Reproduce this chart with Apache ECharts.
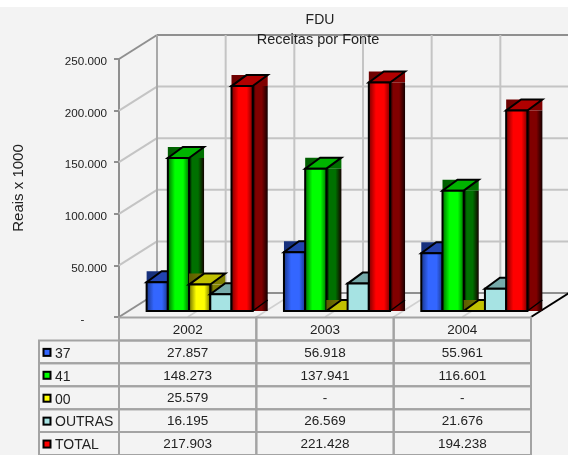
<!DOCTYPE html>
<html><head><meta charset="utf-8">
<style>html,body{margin:0;padding:0;background:#fff;overflow:hidden}#c{width:568px;height:455px}</style>
<script src="https://cdn.jsdelivr.net/npm/echarts@6/dist/echarts.min.js"></script>
</head><body><div id="c"></div>
<script>
const categories = ['2002','2003','2004'];
const valores37 = [27857,56918,55961];
const valores41 = [148273,137941,116601];
const valores00 = [25579,0,0];
const valoresOutras = [16195,26569,21676];
const valoresTotal = [217903,221428,194238];
const yTicks = [0,50000,100000,150000,200000,250000];
const rowNames = ['37','41','00','OUTRAS','TOTAL'];
const FONT = '"Liberation Sans", Arial, sans-serif';

const fmt = v => v === 0 ? '-' : String(v).replace(/\B(?=(\d{3})+$)/g, '.');
const rowsData = [valores37, valores41, valores00, valoresOutras, valoresTotal];
const palette = [
  {front:'#3366ff', edge:'#16307c', side:'#1a3380', top:'#2244b0', flat:false},
  {front:'#00ff00', edge:'#005c00', side:'#007000', top:'#00b400', flat:false},
  {front:'#ffff00', edge:'#5c5c00', side:'#808000', top:'#c0c000', flat:false},
  {front:'#a6e3e3', edge:'#a6e3e3', side:'#5a8c8c', top:'#76aaaa', flat:true},
  {front:'#ff0000', edge:'#6a0000', side:'#800000', top:'#b00000', flat:false}
];
const G = echarts.graphic;
const DX = 38, DY = -24;         // depth of the box
const BX = 15, BY = -11;         // depth of a bar
const SX = 12, SY = -6;          // where the bars sit on the floor
const BAR = 0.1545;              // bar width / category width

function grad(stops){ return new G.LinearGradient(0,0,1,0,stops.map((c,i)=>({offset:c[0],color:c[1]}))); }

function barRenderer(si){
  const p = palette[si];
  return function(params, api){
    const c = api.value(0), v = api.value(1);
    const o = api.coord([c,0]), t = api.coord([c,v]);
    const w = api.size([1,0])[0]*BAR;
    const x0 = o[0]+SX+(si-2.5)*w, x1 = x0+w;
    const yb = o[1]+SY, yt = t[1]+SY;
    const ch = [];
    // dark block behind the top face (the flat-coloured series has none)
    if (!p.flat) ch.push({type:'rect',shape:{x:x0,y:yt+BY,width:w+BX,height:-BY},
      style:{fill:grad([[0,p.edge],[0.5,p.side],[1,p.side]])}});
    // side
    if (yb>yt) ch.push({type:'rect',shape:{x:x1,y:yt,width:BX,height:yb-yt},
      style:{fill:grad(p.flat?[[0,p.side],[1,p.side]]:[[0,'#000'],[0.2,p.side],[0.6,p.side],[1,'#140000']])}});
    // lower edge of the side
    ch.push({type:'line',shape:{x1:x1,y1:yb,x2:x1+BX,y2:yb+BY},style:{stroke:'#000',lineWidth:1.5}});
    // top face
    ch.push({type:'polygon',shape:{points:[[x0,yt],[x1,yt],[x1+BX,yt+BY],[x0+BX,yt+BY]]},
      style:{fill:p.top,stroke:'#000',lineWidth:2,lineJoin:'miter'}});
    // front
    if (yb>yt) ch.push({type:'rect',shape:{x:x0,y:yt,width:w,height:yb-yt},
      style:{fill:p.flat?p.front:grad([[0,p.edge],[0.35,p.front],[0.7,p.front],[1,p.edge]]),stroke:'#000',lineWidth:2}});
    else ch.push({type:'line',shape:{x1:x0,y1:yb,x2:x1,y2:yb},style:{stroke:'#000',lineWidth:2}});
    return {type:'group',children:ch};
  };
}

function wallValue(params, api){
  const v = api.value(0);
  const a = api.coord([0,v]);
  const cs = params.coordSys;
  const x = cs.x, y = a[1];
  const col = (v===yTicks[yTicks.length-1]||v===0)?'#8f8f8f':'#c4c4c4';
  return {type:'group',children:[
    {type:'line',shape:{x1:x,y1:y,x2:x+DX,y2:y+DY},style:{stroke:col,lineWidth:2}},
    {type:'line',shape:{x1:x+DX,y1:y+DY,x2:x+DX+cs.width,y2:y+DY},style:{stroke:col,lineWidth:2}}
  ]};
}
function wallCol(params, api){
  const i = api.value(0);
  const cs = params.coordSys;
  const step = cs.width/6, x = cs.x+i*step;
  const top = cs.y, bottom = cs.y+cs.height;
  const ch = [];
  ch.push({type:'line',shape:{x1:x+DX,y1:top+DY,x2:x+DX,y2:bottom+DY},style:{stroke:i===0?'#a8a8a8':'#c4c4c4',lineWidth:2}});
  if (i>0) ch.push({type:'line',shape:{x1:x,y1:bottom,x2:x+DX,y2:bottom+DY},style:{stroke:i===6?'#000':'#d0d0d0',lineWidth:i===6?2:1.5}});
  return {type:'group',children:ch};
}

const tableCells = [];
categories.forEach((c,i)=>{
  tableCells.push([i,0,c]);
  rowsData.forEach((r,j)=>tableCells.push([i,j+1,fmt(r[i])]));
});
const LABEL_W = 80;
function tableCell(params, api){
  const c = api.value(0), r = api.value(1);
  const a = api.coord([c,r]), b = api.coord([c+1,r+1]);
  const stroke = '#a3a3a3';
  return {type:'group',children:[
    {type:'rect',shape:{x:a[0],y:a[1],width:b[0]-a[0],height:b[1]-a[1]},style:{fill:'none',stroke:stroke,lineWidth:2}},
    {type:'text',style:{x:(a[0]+b[0])/2,y:(a[1]+b[1])/2+1,text:tableCells[params.dataIndex][2],font:'13.5px '+FONT,fill:'#222',align:'center',verticalAlign:'middle'}}
  ]};
}
function tableRow(params, api){
  const r = api.value(0);
  const a = api.coord([0,r+1]), b = api.coord([0,r+2]);
  const p = palette[r], x = a[0]-LABEL_W, ym = (a[1]+b[1])/2;
  return {type:'group',children:[
    {type:'rect',shape:{x:x,y:a[1],width:LABEL_W,height:b[1]-a[1]},style:{fill:'none',stroke:'#a3a3a3',lineWidth:2}},
    {type:'rect',shape:{x:x+3.5,y:ym-4,width:9,height:9},style:{fill:'#000'}},
    {type:'rect',shape:{x:x+5.5,y:ym-2,width:5,height:5},style:{fill:p.front}},
    {type:'text',style:{x:x+16,y:ym+2,text:rowNames[r],font:'14px '+FONT,fill:'#222',align:'left',verticalAlign:'middle'}}
  ]};
}

const fontesSeries = rowsData.map((vals,si)=>({
  type:'custom', xAxisIndex:0, yAxisIndex:0, clip:false, z:5+si, silent:true,
  renderItem:barRenderer(si), encode:{x:0,y:1},
  data:vals.map((v,i)=>[i,v])
}));

const chart = echarts.init(document.getElementById('c'),null,{renderer:'canvas'});
chart.setOption({
  animation:false,
  backgroundColor:'#f3f3f3',
  textStyle:{fontFamily:FONT},
  graphic:[{type:'rect',z:-1,silent:true,shape:{x:0,y:0,width:568,height:7},style:{fill:'#fff'}}],
  title:[
    {text:'FDU',left:320,top:13,textAlign:'center',textStyle:{fontSize:14,fontWeight:'normal',color:'#222',fontFamily:FONT},padding:[0,0,0,0]},
    {text:'Receitas por Fonte',left:318,top:32,textAlign:'center',textStyle:{fontSize:14.5,fontWeight:'normal',color:'#222',fontFamily:FONT},padding:[0,0,0,0]}
  ],
  grid:[
    {left:119,top:59,width:412,height:258},
    {left:119,top:317.5,width:412,height:140.4}
  ],
  xAxis:[
    {type:'category',data:categories,gridIndex:0,axisLine:{show:false},axisTick:{show:false},axisLabel:{show:false}},
    {type:'value',min:0,max:3,gridIndex:1,show:false}
  ],
  yAxis:[
    {type:'value',min:0,max:250000,interval:50000,gridIndex:0,
     name:'Reais x 1000',nameLocation:'middle',nameGap:93,nameRotate:90,
     nameTextStyle:{fontSize:15,color:'#222',fontFamily:FONT},
     axisLine:{show:true,lineStyle:{color:'#8f8f8f',width:2}},
     axisTick:{show:true,length:5,lineStyle:{color:'#8f8f8f',width:2}},
     splitLine:{show:false},
     axisLabel:{margin:12,fontSize:11.7,color:'#222',fontFamily:FONT,verticalAlign:'top',lineHeight:6,
       formatter:v=>v===0?'-       ':fmt(v)}},
    {type:'value',min:0,max:6,inverse:true,gridIndex:1,show:false}
  ],
  series:[
    {type:'custom',xAxisIndex:0,yAxisIndex:0,clip:false,z:1,silent:true,renderItem:wallValue,encode:{y:0},data:yTicks.map(v=>[v])},
    {type:'custom',xAxisIndex:0,yAxisIndex:0,clip:false,z:1,silent:true,renderItem:wallCol,encode:{},data:[0,1,2,3,4,5,6].map(i=>[i])},
    ...fontesSeries,
    {type:'custom',xAxisIndex:1,yAxisIndex:1,clip:false,z:20,silent:true,renderItem:tableCell,encode:{x:0,y:1},data:tableCells},
    {type:'custom',xAxisIndex:1,yAxisIndex:1,clip:false,z:20,silent:true,renderItem:tableRow,encode:{},data:rowNames.map((n,i)=>[i])}
  ]
});
</script></body></html>
